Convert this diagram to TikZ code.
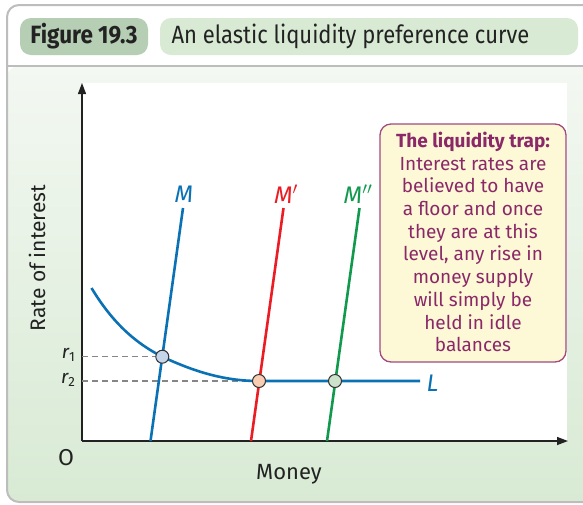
\documentclass[tikz,border=0pt]{standalone}
\usepackage{fontspec}
\setmainfont{Fira Sans}
\newfontfamily\headfont[FakeStretch=0.88]{Fira Sans}
\newfontfamily\headboldfont[FakeStretch=0.9]{Fira Sans}
\newfontfamily\boxfont{Fira Sans}
\usetikzlibrary{arrows.meta}
\definecolor{frame}{HTML}{BDBDBD}
\definecolor{tabdark}{HTML}{B5CEB4}
\definecolor{tablight}{HTML}{D8EAD4}
\definecolor{bgtop}{HTML}{F3F8F2}
\definecolor{bgbot}{HTML}{D8EAD4}
\definecolor{lblue}{HTML}{0A72B4}
\definecolor{lred}{HTML}{EC1C24}
\definecolor{lgreen}{HTML}{119A4E}
\definecolor{trapfill}{HTML}{FDF8D6}
\definecolor{trapdraw}{HTML}{A04A80}
\definecolor{traptext}{HTML}{8A2868}
\definecolor{dotblue}{HTML}{C6D6EA}
\definecolor{dotred}{HTML}{F9CDB4}
\definecolor{dotgreen}{HTML}{CDE2CB}
\definecolor{txt}{HTML}{222222}
\tikzset{
  tab/.style={rounded corners=11pt},
  supply/.style={line width=2.6pt},
  axisline/.style={line width=1.3pt, draw=txt, -{Triangle[length=11pt,width=8pt]}},
  guide/.style={dashed, dash pattern=on 6pt off 4pt, draw=gray!95, line width=1.1pt},
  eqdot/.style={circle, draw=black!80, line width=1pt, minimum size=13pt, inner sep=0pt},
  curvelbl/.style={font=\fontsize{24}{26}\selectfont\itshape},
  axislbl/.style={font=\fontsize{21}{24}\selectfont, text=txt},
  ratelbl/.style={font=\fontsize{19}{24}\selectfont\itshape, text=txt, anchor=east},
}
\begin{document}
\begin{tikzpicture}[x=1pt,y=-1pt]
\useasboundingbox (0,0) rectangle (583,504);
\begin{scope}
\clip (0,0) rectangle (583,504);
% outer frame
\fill[white, rounded corners=12pt] (7,5) rectangle (620,502);
\shade[top color=bgtop, bottom color=bgbot, rounded corners=12pt] (7,66) -- (7,502) -- (620,502) -- (620,66) -- cycle;
\draw[frame, line width=2pt, rounded corners=12pt] (7,5) rectangle (620,502);
\draw[frame, line width=2pt] (7,66) -- (620,66);
% tabs
\fill[tabdark, tab] (20,18) rectangle (148,55);
\node[font=\headboldfont\bfseries\fontsize{25}{27}\selectfont, text=txt] (fig) at (84,36.5) {Figure 19.3};
\fill[tablight, tab] (160,18) rectangle (578,55);
\node[font=\headfont\fontsize{25}{27}\selectfont, text=txt, anchor=west] (title) at (168,36.5) {An elastic liquidity preference curve};
% plot area
\fill[white] (82,83) rectangle (567,441);
\end{scope}
% axes
\coordinate (O) at (82,441);
\coordinate (ytop) at (82,83);
\coordinate (xend) at (568,441);
\draw[axisline] (O) -- (ytop);
\draw[axisline] (O) -- (xend);
\node[axislbl, font=\fontsize{23}{24}\selectfont] (olbl) at (66,458) {O};
\node[axislbl, font=\fontsize{22}{24}\selectfont] (money) at (289,474) {Money};
\node[axislbl, rotate=90] (rate) at (37,258) {Rate of interest};
% points
\coordinate (p1) at (162.3,356.7);
\coordinate (p2) at (259,381);
\coordinate (p3) at (335,381);
% guides
\coordinate (g1) at (82,356.7);
\coordinate (g2) at (82,381);
\draw[guide] (g1) -- (p1);
\draw[guide] (g2) -- (p2);
\node[ratelbl] (r1) at (79,355) {r\textsubscript{\upshape 1}};
\node[ratelbl] (r2) at (79,380) {r\textsubscript{\upshape 2}};
% L curve
\coordinate (Lstart) at (91.5,288);
\coordinate (Lend) at (420,381);
\draw[supply, lblue] (Lstart) .. controls (112,322) and (135,343) .. (p1)
  .. controls (195,372) and (225,381) .. (p2) -- (Lend);
\node[curvelbl, text=lblue, anchor=west] (Llbl) at (423,383) {L};
% money supply lines
\coordinate (Mb) at (150.5,441); \coordinate (Mt) at (183,208);
\coordinate (M1b) at (251,441); \coordinate (M1t) at (283.5,208);
\coordinate (M2b) at (327,441); \coordinate (M2t) at (359.5,208);
\draw[supply, lblue] (Mb) -- (Mt);
\draw[supply, lred] (M1b) -- (M1t);
\draw[supply, lgreen] (M2b) -- (M2t);
\node[curvelbl, text=lblue] (Mlbl) at (184,194) {M};
\node[curvelbl, text=lred] (M1lbl) at (286,194) {M$'$};
\node[curvelbl, text=lgreen] (M2lbl) at (358,194) {M$''$};
% dots
\node[eqdot, fill=dotblue] (d1) at (p1) {};
\node[eqdot, fill=dotred] (d2) at (p2) {};
\node[eqdot, fill=dotgreen] (d3) at (p3) {};
% callout
\node[draw=trapdraw, fill=trapfill, line width=1.3pt, rounded corners=11pt,
      minimum width=186pt, minimum height=238pt, inner sep=0pt] (trap) at (473,243) {};
\node[text=traptext, align=center, font=\boxfont\fontsize{19}{22.7}\selectfont] (traptxt) at (473,242)
 {{\bfseries The liquidity trap:}\\Interest rates are\\believed to have\\a floor and once\\they are at this\\level, any rise in\\money supply\\will simply be\\held in idle\\balances};
\end{tikzpicture}
\end{document}
